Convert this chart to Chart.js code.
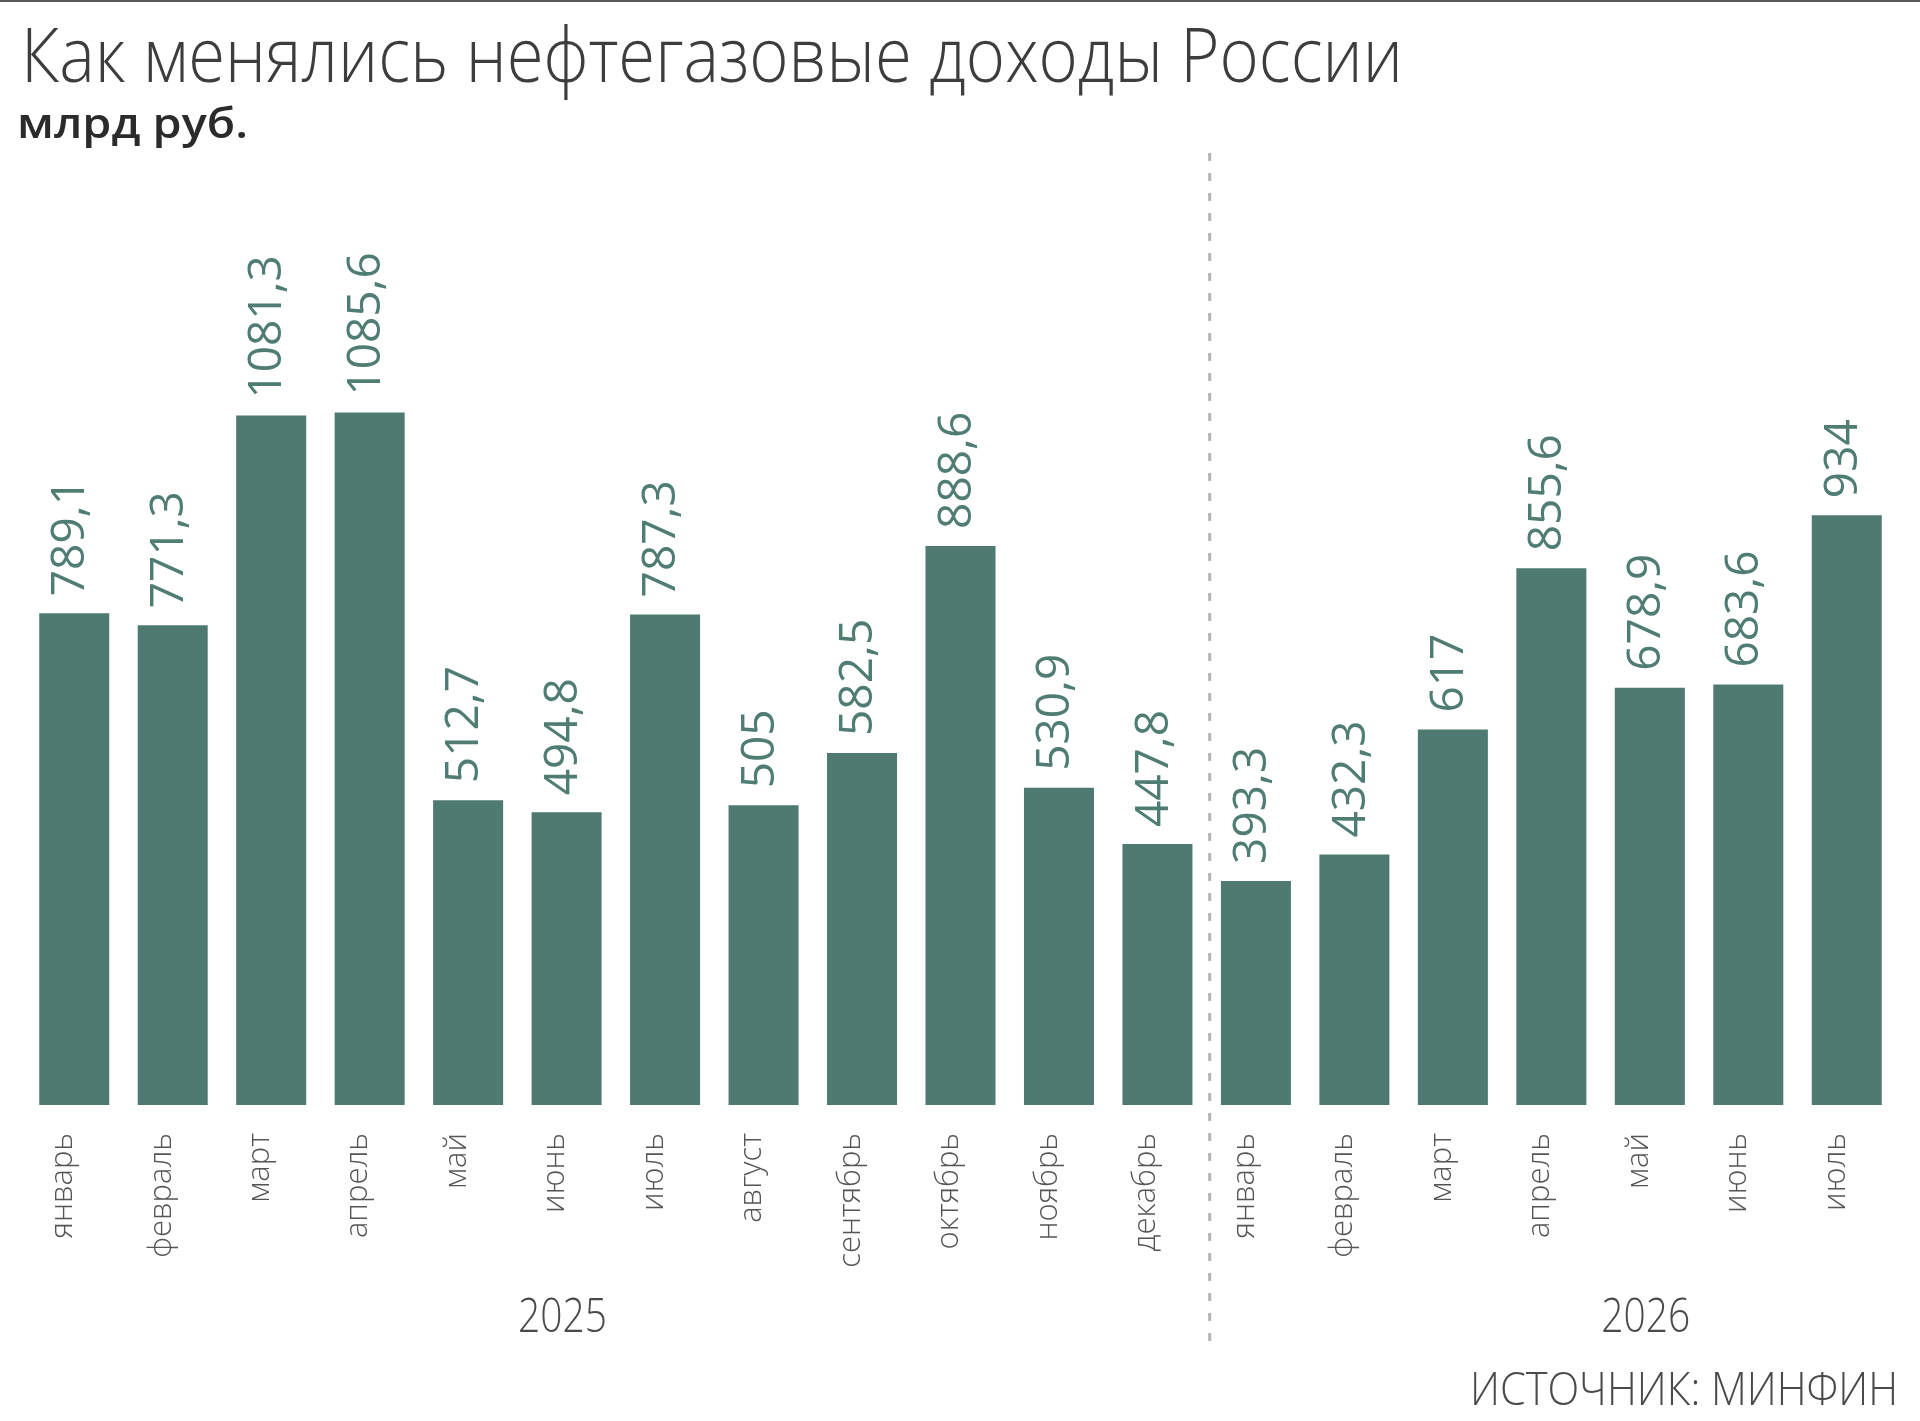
<!DOCTYPE html>
<html>
<head>
<meta charset="utf-8">
<script src="https://cdn.jsdelivr.net/npm/chart.js@4.4.1/dist/chart.umd.min.js"></script>
<style>
  html, body { margin: 0; padding: 0; background: #ffffff; }
  #wrap { width: 1920px; height: 1421px; position: relative; }
  canvas { display: block; }
</style>
</head>
<body>
<div id="wrap"><canvas id="c" width="1920" height="1421"></canvas></div>
<script>
// ---- data ----
const categories = ['январь','февраль','март','апрель','май','июнь','июль','август','сентябрь','октябрь','ноябрь','декабрь',
                    'январь','февраль','март','апрель','май','июнь','июль'];
const values = [789.1, 771.3, 1081.3, 1085.6, 512.7, 494.8, 787.3, 505, 582.5, 888.6, 530.9, 447.8,
                393.3, 432.3, 617, 855.6, 678.9, 683.6, 934];
const years = ['2025', '2026'];
const yearCenterIndex = [5, 16];
const titleText = 'Как менялись нефтегазовые доходы России';
const subtitleText = 'млрд руб.';
const sourceText = 'ИСТОЧНИК: МИНФИН';

const BAR = '#4e7a71';
const LABEL = '#4f7d74';
const FONT = '"Open Sans", "Noto Sans", sans-serif';

function fitText(ctx, text, x, y, size, weight, targetW, align, color) {
  ctx.save();
  ctx.font = weight + ' ' + size + 'px ' + FONT;
  ctx.fillStyle = color;
  ctx.textBaseline = 'alphabetic';
  ctx.textAlign = 'left';
  const w = ctx.measureText(text).width;
  const s = targetW / w;
  let x0 = x;
  if (align === 'right') x0 = x - targetW;
  if (align === 'center') x0 = x - targetW / 2;
  ctx.translate(x0, y);
  ctx.scale(s, 1);
  ctx.fillText(text, 0, 0);
  ctx.restore();
}

const decor = {
  id: 'decor',
  beforeDraw(chart) {
    const ctx = chart.ctx;
    ctx.save();
    ctx.fillStyle = '#ffffff';
    ctx.fillRect(0, 0, chart.width, chart.height);
    ctx.fillStyle = '#5a5a5a';
    ctx.fillRect(0, 0, chart.width, 2);
    ctx.restore();
  },
  afterDatasetsDraw(chart) {
    const ctx = chart.ctx;
    const meta = chart.getDatasetMeta(0);
    const xs = chart.scales.x;
    // value labels
    ctx.save();
    ctx.font = '400 46px ' + FONT;
    ctx.fillStyle = LABEL;
    ctx.textAlign = 'left';
    ctx.textBaseline = 'middle';
    meta.data.forEach((bar, i) => {
      const txt = String(values[i]).replace('.', ',');
      ctx.save();
      ctx.translate(bar.x - 3, bar.y - 17);
      ctx.rotate(-Math.PI / 2);
      ctx.fillText(txt, 0, 0);
      ctx.restore();
    });
    ctx.restore();
    // divider
    const xd = (xs.getPixelForValue(11) + xs.getPixelForValue(12)) / 2 + 3;
    ctx.save();
    ctx.strokeStyle = '#b4b4b4';
    ctx.lineWidth = 3;
    ctx.setLineDash([8, 12]);
    ctx.beginPath();
    ctx.moveTo(xd, 153);
    ctx.lineTo(xd, 1343);
    ctx.stroke();
    ctx.restore();
  },
  afterDraw(chart) {
    const ctx = chart.ctx;
    const xs = chart.scales.x;
    fitText(ctx, titleText, 21, 82, 76, 300, 1382, 'left', '#3d3d3d');
    fitText(ctx, subtitleText, 17, 138, 42, 600, 231, 'left', '#2b2b2b');
    years.forEach((y, i) => {
      fitText(ctx, y, xs.getPixelForValue(yearCenterIndex[i]) - 4, 1332, 47, 300, 89, 'center', '#4a4a4a');
    });
    fitText(ctx, sourceText, 1898, 1405, 46, 300, 428, 'right', '#4a4a4a');
  }
};

new Chart(document.getElementById('c'), {
  type: 'bar',
  data: {
    labels: categories,
    datasets: [{
      data: values,
      backgroundColor: BAR,
      borderWidth: 0,
      barPercentage: 0.711,
      categoryPercentage: 1.0
    }]
  },
  options: {
    responsive: false,
    devicePixelRatio: 1,
    animation: false,
    layout: { padding: { top: 267.6, left: 25, right: 24, bottom: 0 } },
    plugins: { legend: { display: false }, tooltip: { enabled: false }, title: { display: false } },
    scales: {
      x: {
        grid: { display: false, drawTicks: false },
        border: { display: false },
        ticks: {
          autoSkip: false,
          maxRotation: 90,
          minRotation: 90,
          padding: 28,
          labelOffset: -11,
          color: '#555555',
          font: { family: FONT, weight: 300, size: 31 }
        },
        afterFit(scale) { scale.height = 316; }
      },
      y: { display: false, min: 62, max: 1300 }
    }
  },
  plugins: [decor]
});
</script>
</body>
</html>
